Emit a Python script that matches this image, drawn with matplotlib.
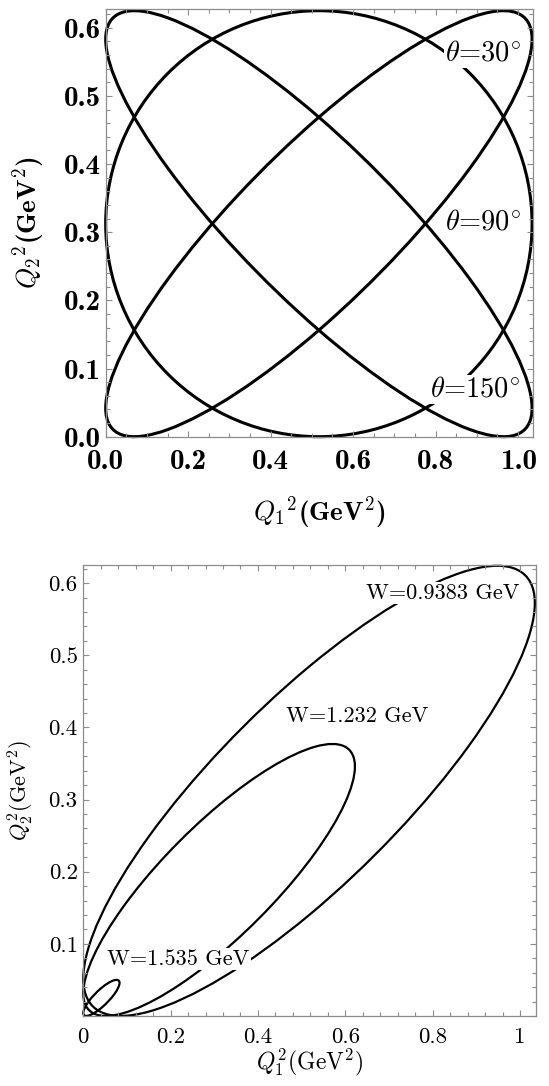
import numpy as np
import matplotlib
matplotlib.use("Agg")
import matplotlib.pyplot as plt
from matplotlib.patches import Circle
from matplotlib.transforms import Affine2D
from matplotlib.ticker import MultipleLocator

plt.rcParams['mathtext.fontset'] = 'cm'
plt.rcParams['axes.unicode_minus'] = False

# top panel: loci for fixed angle theta (full extent of the loop, GeV^2)
theta_deg = [30, 90, 150]
theta_q1_max = 1.034
theta_q2_max = 0.625
theta_text = [r'$\theta$=30$^{\circ}$', r'$\theta$=90$^{\circ}$', r'$\theta$=150$^{\circ}$']
theta_text_x = [0.915, 0.915, 0.897]
theta_text_y = [0.563, 0.314, 0.069]

top_xticks = [0.0, 0.2, 0.4, 0.6, 0.8, 1.0]
top_xlabels = ['0.0', '0.2', '0.4', '0.6', '0.8', '1.0']
top_yticks = [0.0, 0.1, 0.2, 0.3, 0.4, 0.5, 0.6]
top_ylabels = ['0.0', '0.1', '0.2', '0.3', '0.4', '0.5', '0.6']

# bottom panel: loci for fixed W
w_gev = [0.9383, 1.232, 1.535]
w_q1_max = [1.034, 0.622, 0.083]
w_q2_max = [0.624, 0.377, 0.050]
w_phase_deg = 33.5
w_text = ['W=0.9383 GeV', 'W=1.232 GeV', 'W=1.535 GeV']
w_text_x = [0.824, 0.627, 0.217]
w_text_y = [0.586, 0.415, 0.079]

bot_xticks = [0.0, 0.2, 0.4, 0.6, 0.8, 1.0]
bot_xlabels = ['0', '0.2', '0.4', '0.6', '0.8', '1']
bot_yticks = [0.0, 0.1, 0.2, 0.3, 0.4, 0.5, 0.6]
bot_ylabels = ['', '0.1', '0.2', '0.3', '0.4', '0.5', '0.6']


def add_locus(ax, q1max, q2max, phase, lw):
    # unit circle mapped onto the loop q1 = a(1+cos t), q2 = b(1+cos(t-phase))
    a, b = q1max / 2, q2max / 2
    p = np.radians(phase)
    m = Affine2D(np.array([[a, 0, a],
                           [b * np.cos(p), b * np.sin(p), b],
                           [0, 0, 1]]))
    ax.add_patch(Circle((0, 0), 1, fill=False, ec='black', lw=lw,
                        transform=m + ax.transData, clip_on=False))


def frame_style(ax, xminor, yminor, pad_x, pad_y):
    for s in ax.spines.values():
        s.set_color('#8c8c8c')
        s.set_linewidth(0.9)
    ax.xaxis.set_minor_locator(MultipleLocator(xminor))
    ax.yaxis.set_minor_locator(MultipleLocator(yminor))
    ax.tick_params(which='both', direction='in', top=True, right=True,
                   color='#8c8c8c', width=0.8)
    ax.tick_params(which='major', length=4.5)
    ax.tick_params(which='minor', length=2.8)
    ax.tick_params(axis='x', which='major', pad=pad_x)
    ax.tick_params(axis='y', which='major', pad=pad_y)


fig = plt.figure(figsize=(5.49, 10.86), dpi=100)

# ---- top panel
ax1 = fig.add_axes([0.1925, 0.5979, 0.7789, 0.3935])
for th in theta_deg:
    add_locus(ax1, theta_q1_max, theta_q2_max, th, 2.2)
ax1.set_xlim(0, 1.037)
ax1.set_ylim(0, 0.627)
frame_style(ax1, 0.05, 0.02, 9, 3.5)
ax1.set_xticks(top_xticks, top_xlabels, fontfamily='cmb10', fontsize=21)
ax1.set_yticks(top_yticks, top_ylabels, fontfamily='cmb10', fontsize=21)
for s, x, y in zip(theta_text, theta_text_x, theta_text_y):
    ax1.text(x, y, s, fontfamily='cmr10', fontsize=20.5, ha='center', va='center',
             bbox=dict(facecolor='white', edgecolor='none', pad=1))
ax1.set_xlabel(r'$Q_1{}^2$(GeV$^2$)', fontfamily='cmb10', fontsize=19.5)
ax1.set_ylabel(r'$Q_2{}^2$(GeV$^2$)', fontfamily='cmb10', fontsize=19.5)
ax1.xaxis.set_label_coords(0.5, -0.178)
ax1.xaxis.label.set_va('center')
ax1.yaxis.set_label_coords(-0.18, 0.5)
ax1.yaxis.label.set_va('center')

# ---- bottom panel
ax2 = fig.add_axes([0.1517, 0.0645, 0.8241, 0.4152])
for q1m, q2m in zip(w_q1_max, w_q2_max):
    add_locus(ax2, q1m, q2m, w_phase_deg, 1.6)
ax2.set_xlim(0, 1.036)
ax2.set_ylim(0, 0.625)
frame_style(ax2, 0.04, 0.02, 8.5, 4)
ax2.set_xticks(bot_xticks, bot_xlabels, fontfamily='cmr10', fontsize=16.5)
ax2.set_yticks(bot_yticks, bot_ylabels, fontfamily='cmr10', fontsize=16.5)
for s, x, y in zip(w_text, w_text_x, w_text_y):
    ax2.text(x, y, s, fontfamily='cmr10', fontsize=16, ha='center', va='center',
             bbox=dict(facecolor='white', edgecolor='none', pad=1))
ax2.set_xlabel(r'$Q_1^2$(GeV$^2$)', fontfamily='cmr10', fontsize=17)
ax2.set_ylabel(r'$Q_2^2$(GeV$^2$)', fontfamily='cmr10', fontsize=16)
ax2.xaxis.set_label_coords(0.5, -0.103)
ax2.xaxis.label.set_va('center')
ax2.yaxis.set_label_coords(-0.138, 0.5)
ax2.yaxis.label.set_va('center')

fig.savefig('out.png', dpi=100)
